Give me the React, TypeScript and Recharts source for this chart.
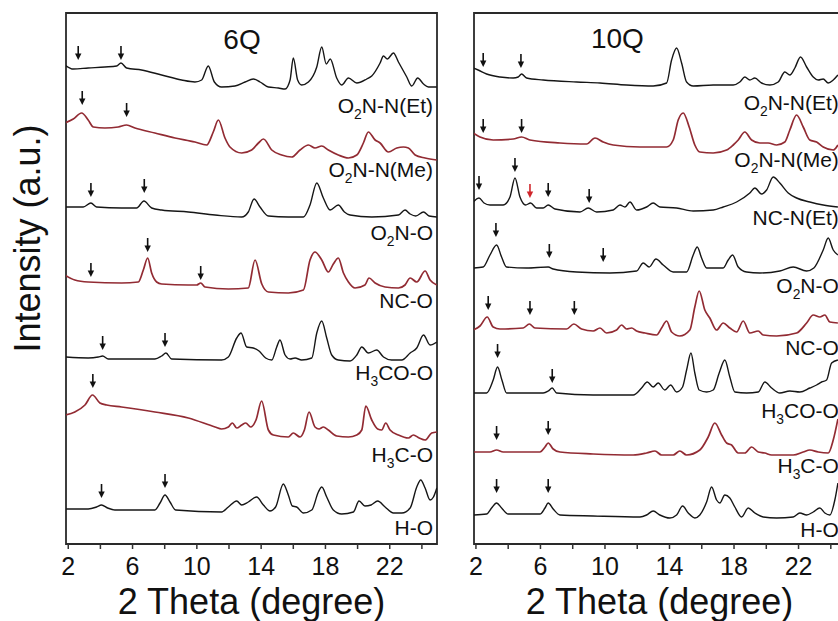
import React from 'react';
import { LineChart, Line, XAxis, YAxis, ReferenceArea, ReferenceDot } from 'recharts';

type Pt = [number, number];

// 2 Theta (degree) vs stacked intensity (a.u., offset included)

// ---- 6Q ----
const q6Et: Pt[] = [
  [1.79, 479], [2.31, 475], [3.24, 476], [4.28, 477], [5.01, 478], [5.28, 481], [5.63, 476], [6.56, 474],
  [7.81, 469], [9.05, 464], [9.88, 462], [10.3, 464], [10.71, 478], [11.09, 462], [11.54, 457], [12.37, 458],
  [13.0, 462], [13.51, 465], [13.93, 462], [14.45, 457], [15.07, 456], [15.49, 455], [15.8, 464], [16.0, 486],
  [16.27, 464], [16.52, 459], [16.94, 462], [17.46, 477], [17.77, 497], [18.05, 480], [18.3, 485], [18.7, 466],
  [19.01, 459], [19.43, 466], [19.95, 461], [20.57, 465], [20.88, 468], [21.4, 481], [21.61, 488], [21.85, 485],
  [22.23, 491], [22.54, 482], [23.06, 467], [23.37, 458], [23.74, 466], [24.1, 460], [24.41, 457], [24.93, 457],
];
const q6Me: Pt[] = [
  [1.79, 421], [2.31, 425], [2.83, 431], [3.24, 424], [3.56, 417], [4.28, 416], [5.11, 417], [5.63, 419],
  [6.15, 416], [7.39, 411], [8.64, 406], [9.88, 402], [10.61, 399], [11.02, 412], [11.34, 424], [11.75, 406],
  [12.06, 397], [12.79, 391], [13.41, 394], [13.83, 401], [14.14, 405], [14.66, 394], [15.28, 389], [15.9, 387],
  [16.42, 394], [16.94, 399], [17.35, 396], [17.77, 398], [18.18, 394], [18.8, 389], [19.43, 386], [19.95, 389],
  [20.36, 401], [20.67, 412], [21.09, 404], [21.4, 401], [21.92, 392], [22.44, 396], [22.85, 397], [23.16, 396],
  [23.58, 389], [24.2, 386], [24.93, 384],
];
const q6O2NO: Pt[] = [
  [1.79, 337], [2.93, 337], [3.41, 341], [3.76, 337], [5.32, 336], [6.25, 336], [6.71, 343], [7.19, 336],
  [7.81, 334], [9.47, 332], [11.13, 329], [12.79, 327], [13.2, 332], [13.56, 345], [13.93, 337], [14.45, 328],
  [15.69, 327], [16.63, 327], [17.04, 339], [17.46, 361], [17.87, 346], [18.29, 334], [18.8, 339], [19.18, 332],
  [19.53, 329], [20.88, 327], [22.54, 329], [22.95, 334], [23.27, 330], [23.62, 328], [24.1, 332], [24.45, 328],
  [24.93, 327],
];
const q6NCO: Pt[] = [
  [1.79, 269], [2.41, 264], [3.24, 262], [5.32, 261], [6.36, 262], [6.67, 274], [6.94, 286], [7.19, 271],
  [7.5, 262], [7.81, 260], [9.47, 259], [9.99, 259], [10.24, 261], [10.51, 257], [11.96, 255], [13.2, 256],
  [13.62, 284], [14.04, 260], [14.45, 252], [15.69, 251], [16.63, 254], [17.04, 284], [17.35, 292], [17.77, 284],
  [18.18, 272], [18.49, 280], [18.8, 286], [19.12, 271], [19.43, 262], [19.84, 256], [20.46, 259], [20.71, 266],
  [21.09, 261], [21.71, 257], [22.54, 256], [22.95, 259], [23.27, 266], [23.68, 262], [24.2, 273], [24.51, 264],
  [24.93, 259],
];
const q6H3COO: Pt[] = [
  [1.79, 187], [3.24, 186], [3.87, 187], [4.14, 188], [4.49, 185], [7.39, 185], [7.81, 188], [8.08, 191],
  [8.43, 185], [11.54, 184], [11.96, 187], [12.48, 206], [12.75, 211], [13.1, 197], [13.51, 196], [13.87, 193],
  [14.28, 186], [14.66, 184], [14.97, 197], [15.17, 204], [15.49, 189], [15.8, 185], [16.11, 186], [16.52, 184],
  [17.15, 186], [17.46, 211], [17.77, 223], [18.08, 206], [18.39, 189], [18.8, 184], [19.53, 183], [19.95, 189],
  [20.26, 197], [20.67, 191], [21.19, 194], [21.61, 187], [22.12, 184], [22.75, 184], [23.27, 191], [23.68, 196],
  [24.1, 209], [24.51, 199], [24.93, 202],
];
const q6H3CO: Pt[] = [
  [1.79, 129], [2.41, 132], [3.04, 139], [3.51, 149], [3.97, 141], [4.39, 139], [5.32, 137], [7.39, 132],
  [9.47, 126], [11.13, 117], [11.54, 115], [11.96, 117], [12.21, 121], [12.48, 116], [12.79, 119], [13.04, 121],
  [13.35, 117], [13.68, 124], [14.03, 143], [14.45, 114], [14.76, 109], [15.69, 107], [16.0, 111], [16.42, 107],
  [16.69, 114], [16.98, 132], [17.35, 117], [17.6, 115], [17.87, 117], [18.18, 114], [18.7, 108], [19.43, 107],
  [19.95, 109], [20.26, 114], [20.51, 138], [20.88, 124], [21.25, 115], [21.5, 114], [21.75, 121], [22.02, 114],
  [22.54, 109], [23.16, 106], [23.47, 109], [23.83, 106], [24.2, 104], [24.61, 111], [24.93, 112],
];
const q6HO: Pt[] = [
  [1.79, 35], [3.24, 35], [3.76, 37], [4.07, 39], [4.45, 36], [4.9, 34], [7.39, 34], [7.71, 41],
  [8.02, 49], [8.33, 42], [8.68, 34], [11.54, 32], [11.96, 37], [12.48, 43], [12.79, 39], [13.2, 42],
  [13.72, 47], [14.14, 39], [14.55, 33], [14.9, 37], [15.38, 60], [15.69, 49], [15.94, 38], [16.21, 37],
  [16.63, 31], [17.15, 34], [17.56, 52], [17.77, 57], [18.08, 47], [18.49, 34], [19.01, 30], [19.74, 32],
  [20.09, 43], [20.46, 38], [20.84, 39], [21.25, 43], [21.71, 37], [22.23, 31], [22.75, 31], [23.27, 36],
  [23.68, 57], [23.93, 64], [24.2, 56], [24.51, 44], [24.72, 47], [24.93, 56],
];
const q6Names = ['O_2N-N(Et)', 'O_2N-N(Me)', 'O_2N-O', 'NC-O', 'H_3CO-O', 'H_3C-O', 'H-O'];
const q6NameY = [431, 367, 304, 236, 164, 82, 9];
const q6Arrows: Pt[] = [
  [2.62, 484], [5.28, 484], [2.87, 439], [5.63, 427], [3.41, 347], [6.73, 351], [3.41, 267],
  [6.94, 292], [10.24, 264], [4.14, 194], [8.02, 197], [3.53, 156], [4.07, 46], [8.02, 56],
];

// ---- 10Q ----
const q10Et: Pt[] = [
  [1.83, 476], [2.14, 474], [2.66, 470], [3.49, 467], [4.31, 466], [4.62, 467], [4.83, 470], [5.14, 466],
  [6.17, 464], [8.24, 462], [9.69, 461], [11.34, 459], [12.99, 458], [13.82, 461], [14.13, 484], [14.44, 496],
  [14.75, 481], [15.06, 462], [15.47, 458], [16.71, 459], [17.95, 459], [18.36, 462], [18.67, 467], [18.98, 464],
  [19.29, 466], [19.71, 461], [20.22, 459], [20.74, 462], [21.15, 472], [21.46, 469], [21.77, 476], [22.12, 487],
  [22.5, 477], [22.91, 467], [23.22, 464], [23.53, 465], [23.84, 461], [24.15, 464], [24.44, 469],
];
const q10Me: Pt[] = [
  [1.83, 411], [2.25, 407], [3.07, 404], [4.31, 405], [4.83, 407], [5.35, 404], [7.21, 401], [8.86, 400],
  [9.38, 406], [9.89, 402], [10.51, 399], [12.17, 397], [13.82, 397], [14.23, 404], [14.54, 424], [14.85, 431],
  [15.22, 417], [15.57, 399], [15.88, 392], [16.71, 391], [17.54, 394], [17.95, 399], [18.26, 404], [18.67, 412],
  [19.09, 404], [19.6, 401], [20.12, 401], [20.64, 399], [21.15, 402], [21.46, 414], [21.88, 429], [22.29, 417],
  [22.7, 404], [23.12, 402], [23.53, 397], [24.15, 394], [24.44, 399],
];
const q10NCNEt: Pt[] = [
  [1.83, 342], [2.19, 346], [2.5, 341], [2.87, 339], [3.69, 339], [4.11, 347], [4.42, 366], [4.73, 347],
  [5.08, 339], [5.39, 341], [5.76, 336], [6.17, 336], [6.48, 339], [6.9, 335], [8.45, 332], [8.96, 336],
  [9.48, 332], [10.51, 334], [10.93, 339], [11.24, 337], [11.55, 342], [11.96, 334], [12.58, 337], [12.99, 341],
  [13.4, 337], [14.44, 336], [15.47, 333], [16.71, 334], [17.33, 337], [18.16, 342], [18.98, 351], [19.29, 356],
  [19.71, 350], [20.02, 354], [20.43, 367], [20.84, 361], [21.36, 351], [21.88, 346], [22.7, 342], [23.53, 339],
  [24.44, 337],
];
const q10O2NO: Pt[] = [
  [1.83, 276], [2.45, 277], [2.87, 289], [3.28, 299], [3.59, 287], [3.9, 277], [5.14, 276], [6.48, 277],
  [6.79, 275], [8.24, 272], [10.31, 271], [11.96, 273], [12.37, 281], [12.74, 277], [13.16, 285], [13.61, 279],
  [14.23, 272], [15.06, 272], [15.47, 289], [15.72, 297], [15.99, 286], [16.3, 276], [17.33, 276], [17.64, 284],
  [17.91, 289], [18.26, 277], [18.78, 272], [19.6, 271], [20.84, 273], [21.67, 277], [22.5, 273], [22.95, 276],
  [23.53, 294], [23.84, 306], [24.15, 294], [24.44, 289],
];
const q10NCO: Pt[] = [
  [1.83, 214], [2.25, 218], [2.7, 227], [3.07, 217], [3.49, 215], [4.93, 216], [5.31, 220], [5.66, 216],
  [7.62, 215], [8.07, 220], [8.55, 215], [9.27, 213], [9.69, 216], [10.1, 211], [10.72, 214], [11.03, 219],
  [11.34, 215], [11.65, 216], [11.96, 213], [12.48, 211], [13.2, 209], [13.51, 216], [13.82, 223], [14.13, 212],
  [14.64, 208], [15.26, 214], [15.57, 237], [15.84, 253], [16.19, 234], [16.5, 226], [16.92, 214], [17.33, 221],
  [17.74, 216], [18.16, 212], [18.57, 223], [18.98, 211], [19.5, 213], [19.81, 209], [20.64, 208], [21.88, 211],
  [22.5, 221], [22.91, 229], [23.32, 227], [23.63, 229], [23.94, 222], [24.44, 221],
];
const q10H3COO: Pt[] = [
  [1.83, 151], [2.66, 151], [3.07, 164], [3.34, 177], [3.61, 164], [3.9, 151], [6.17, 151], [6.48, 153],
  [6.73, 156], [7.0, 151], [9.27, 149], [11.75, 149], [12.27, 156], [12.62, 162], [12.99, 157], [13.3, 161],
  [13.71, 154], [14.07, 159], [14.44, 152], [14.81, 157], [15.06, 174], [15.33, 191], [15.57, 171], [15.84, 154],
  [16.3, 152], [16.71, 154], [17.08, 171], [17.43, 184], [17.74, 167], [18.05, 152], [18.78, 151], [19.5, 152],
  [19.91, 162], [20.33, 156], [20.84, 151], [21.46, 153], [22.08, 152], [22.7, 156], [23.12, 159], [23.43, 162],
  [23.74, 164], [24.05, 181], [24.44, 184],
];
const q10H3CO: Pt[] = [
  [1.83, 92], [2.87, 92], [3.28, 94], [3.69, 92], [5.97, 92], [6.28, 97], [6.48, 101], [6.79, 95],
  [7.21, 92], [9.27, 90], [11.75, 89], [12.58, 91], [13.1, 93], [13.51, 89], [14.23, 89], [14.64, 93],
  [15.06, 89], [15.88, 94], [16.4, 107], [16.81, 121], [17.23, 109], [17.54, 101], [17.85, 99], [18.26, 91],
  [18.67, 91], [19.09, 97], [19.5, 92], [19.91, 91], [20.33, 89], [21.67, 89], [22.29, 92], [22.7, 94],
  [23.22, 92], [23.84, 91], [24.15, 104], [24.44, 125],
];
const q10HO: Pt[] = [
  [1.83, 29], [2.66, 30], [2.97, 36], [3.28, 41], [3.59, 36], [4.0, 30], [5.97, 30], [6.28, 36],
  [6.48, 41], [6.79, 35], [7.21, 29], [9.27, 28], [12.17, 27], [12.58, 29], [12.99, 33], [13.4, 29],
  [14.02, 26], [14.44, 29], [14.81, 38], [15.16, 31], [15.57, 26], [15.88, 29], [16.3, 42], [16.61, 57],
  [16.92, 44], [17.12, 41], [17.43, 49], [17.74, 46], [18.05, 37], [18.47, 27], [18.88, 36], [19.29, 31],
  [19.81, 27], [20.64, 26], [21.67, 27], [22.08, 31], [22.5, 29], [22.91, 32], [23.32, 36], [23.63, 31],
  [23.94, 29], [24.25, 44], [24.44, 61],
];
const q10Names = ['O_2N-N(Et)', 'O_2N-N(Me)', 'NC-N(Et)', 'O_2N-O', 'NC-O', 'H_3CO-O', 'H_3C-O', 'H-O'];
const q10NameY = [434, 377, 319, 251, 189, 126, 71, 7];
const q10Arrows: Pt[] = [
  [2.45, 477], [4.79, 476], [2.45, 411], [4.83, 411], [2.19, 354], [4.42, 372], [6.48, 347], [9.02, 341],
  [3.24, 307], [6.55, 286], [9.89, 282], [2.76, 234], [5.35, 229], [8.1, 229], [3.34, 186], [6.73, 161],
  [3.28, 104], [6.48, 109], [3.28, 51], [6.48, 51],
];
const q10RedArrows: Pt[] = [[5.35, 346]];

const xTicks = [2, 4, 6, 8, 10, 12, 14, 16, 18, 20, 22, 24];

const BLACK = '#161616';
const RED = '#922b33';
const FONT = '"Liberation Sans", Arial, Helvetica, sans-serif';

function Chem({ x, y, text, size, anchor }: any) {
  const parts = text.split(/_(\d)/);
  return (
    <text x={x} y={y} textAnchor={anchor} fontSize={size} fill="#111" fontFamily={FONT}>
      {parts.map((p: string, i: number) =>
        i % 2 === 1 ? (
          <tspan key={i} fontSize={size * 0.66} dy={size * 0.28}>{p}</tspan>
        ) : (
          <tspan key={i} dy={i > 0 ? -size * 0.28 : 0}>{p}</tspan>
        )
      )}
    </text>
  );
}

const arrowShape = (color: string) => (p: any) => {
  const { cx, cy } = p;
  return (
    <g>
      <line x1={cx} y1={cy - 14} x2={cx} y2={cy - 5} stroke={color} strokeWidth={1.6} />
      <path d={`M${cx - 3.2},${cy - 6.5} L${cx + 3.2},${cy - 6.5} L${cx},${cy} Z`} fill={color} />
    </g>
  );
};

const xTitle = (props: any) => {
  const vb = props.viewBox || {};
  return (
    <text x={vb.x + vb.width / 2} y={vb.y + 70} textAnchor="middle" fontSize={36} fill="#111" fontFamily={FONT}>
      2 Theta (degree)
    </text>
  );
};

const yTitle = (props: any) => {
  const vb = props.viewBox || {};
  const cx = vb.x + 19;
  const cy = vb.y + vb.height / 2 - 40;
  return (
    <text x={cx} y={cy} transform={`rotate(-90 ${cx} ${cy})`} textAnchor="middle" dominantBaseline="central"
      fontSize={36} fill="#111" fontFamily={FONT}>
      Intensity (a.u.)
    </text>
  );
};

function Panel({ pos, width, margin, domain, traces, names, nameY, nameX, arrows, redArrows, title, titleX, titleY, showY }: any) {
  return (
    <div style={{ position: 'absolute', left: pos, top: 8 }}>
      <LineChart width={width} height={613} margin={margin}>
        <XAxis
          type="number"
          dataKey="x"
          domain={domain}
          allowDataOverflow
          ticks={xTicks}
          interval={0}
          height={70}
          axisLine={false}
          tickSize={5}
          tickMargin={8}
          tickLine={{ stroke: '#333', strokeWidth: 1.5 }}
          tick={{ fontSize: 25, fill: '#111', fontFamily: FONT }}
          tickFormatter={(v: number) => ((v - 2) % 4 === 0 ? String(v) : '')}
          label={{ content: xTitle }}
        />
        {showY ? (
          <YAxis type="number" domain={[0, 531]} allowDataOverflow width={58} tick={false} axisLine={false}
            tickLine={false} label={{ content: yTitle }} />
        ) : (
          <YAxis type="number" domain={[0, 531]} allowDataOverflow hide />
        )}
        <ReferenceArea x1={domain[0]} x2={domain[1]} y1={0} y2={531} fill="none" stroke="#2a2a2a"
          strokeWidth={1.8} ifOverflow="visible" />
        {traces.map((t: any, i: number) => (
          <Line
            key={i}
            data={t.data.map(([x, y]: Pt) => ({ x, y }))}
            dataKey="y"
            type="monotone"
            stroke={t.red ? RED : BLACK}
            strokeWidth={t.red ? 1.7 : 1.4}
            dot={false}
            activeDot={false}
            isAnimationActive={false}
          />
        ))}
        {arrows.map(([x, y]: Pt, i: number) => (
          <ReferenceDot key={'a' + i} x={x} y={y} r={0} ifOverflow="visible" shape={arrowShape('#111')} />
        ))}
        {redArrows.map(([x, y]: Pt, i: number) => (
          <ReferenceDot key={'r' + i} x={x} y={y} r={0} ifOverflow="visible" shape={arrowShape('#d0262b')} />
        ))}
        {names.map((n: string, i: number) => (
          <ReferenceDot key={'n' + i} x={nameX} y={nameY[i]} r={0} ifOverflow="visible"
            shape={(p: any) => <Chem x={p.cx} y={p.cy} text={n} size={21} anchor="end" />} />
        ))}
        <ReferenceDot x={titleX} y={titleY} r={0} ifOverflow="visible"
          shape={(p: any) => (
            <text x={p.cx} y={p.cy} textAnchor="middle" fontSize={28} fill="#111" fontFamily={FONT}>{title}</text>
          )} />
      </LineChart>
    </div>
  );
}

export default function App() {
  return (
    <div style={{ position: 'fixed', left: 0, top: 0, width: 838, height: 621, overflow: 'hidden', background: '#fff', fontFamily: FONT }}>
      <Panel
        pos={8}
        width={440}
        margin={{ top: 5, right: 11, bottom: 7, left: 0 }}
        domain={[1.86, 24.94]}
        traces={[
          { data: q6Et }, { data: q6Me, red: true }, { data: q6O2NO }, { data: q6NCO, red: true },
          { data: q6H3COO }, { data: q6H3CO, red: true }, { data: q6HO },
        ]}
        names={q6Names}
        nameY={q6NameY}
        nameX={24.69}
        arrows={q6Arrows}
        redArrows={[]}
        title="6Q"
        titleX={12.81}
        titleY={495}
        showY
      />
      <Panel
        pos={458}
        width={400}
        margin={{ top: 5, right: 13, bottom: 7, left: 16 }}
        domain={[1.88, 24.88]}
        traces={[
          { data: q10Et }, { data: q10Me, red: true }, { data: q10NCNEt }, { data: q10O2NO },
          { data: q10NCO, red: true }, { data: q10H3COO }, { data: q10H3CO, red: true }, { data: q10HO },
        ]}
        names={q10Names}
        nameY={q10NameY}
        nameX={24.5}
        arrows={q10Arrows}
        redArrows={q10RedArrows}
        title="10Q"
        titleX={10.77}
        titleY={496}
        showY={false}
      />
    </div>
  );
}
